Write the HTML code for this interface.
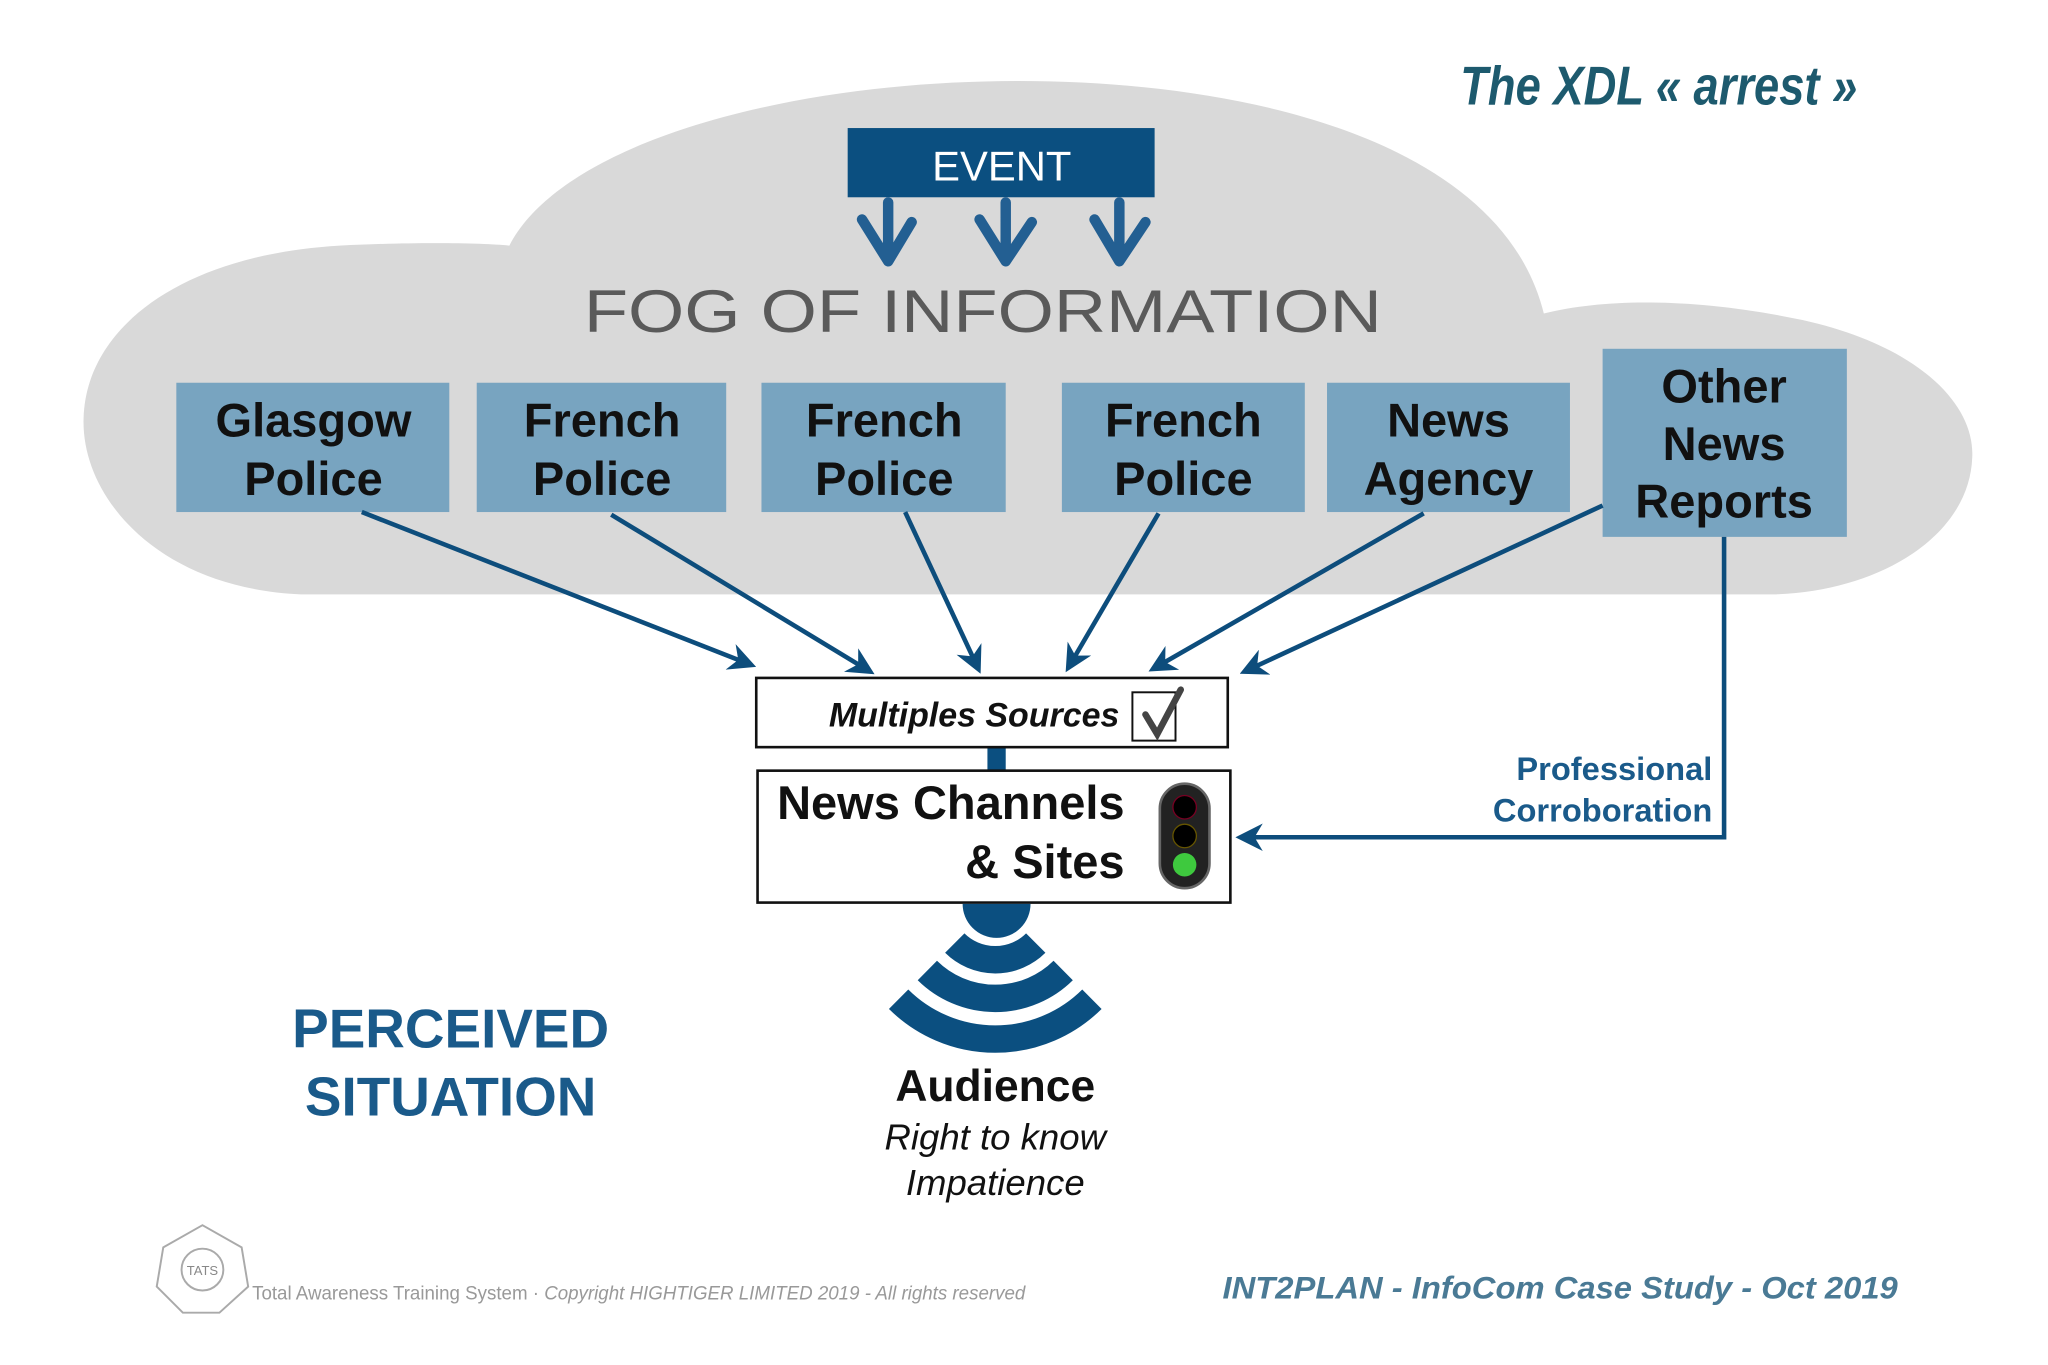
<!DOCTYPE html>
<html><head><meta charset="utf-8"><style>
html,body{margin:0;padding:0;background:#fff;}
svg{display:block;}
text{font-family:"Liberation Sans",sans-serif;}
</style></head><body>
<svg width="2048" height="1365" viewBox="0 0 1568 1045" xmlns="http://www.w3.org/2000/svg">
<defs>
<marker id="ah" viewBox="0 0 10 10" refX="8" refY="5" markerWidth="6" markerHeight="6" orient="auto-start-reverse">
<path d="M0,0 L10,5 L0,10 L3,5 z" fill="#0d4d7c"/>
</marker>
</defs>
<!-- cloud -->
<path fill="#d9d9d9" d="M230,455 C120,450 62,380 64,320 C66,250 140,195 260,188 C320,185 370,186 390,188 C430,110 600,62 780,62 C960,62 1150,110 1182,240 C1230,228 1300,228 1380,245 C1470,265 1512,310 1510,350 C1508,410 1440,452 1360,455 Z"/>
<!-- title -->
<text x="1118" y="80" font-size="42" font-weight="bold" font-style="italic" fill="#1d5a6e" textLength="304" lengthAdjust="spacingAndGlyphs">The XDL « arrest »</text>
<!-- EVENT -->
<rect x="649" y="98" width="235" height="53" fill="#0b4f80"/>
<text x="767" y="138" font-size="32" fill="#fff" text-anchor="middle">EVENT</text>
<g stroke="#235f92" stroke-width="8" fill="none" stroke-linecap="round" stroke-linejoin="round">
<path d="M680,155 L680,200 M660,168 L680,200 L698,170"/>
<path d="M770,155 L770,200 M750,168 L770,200 L790,170"/>
<path d="M857,155 L857,200 M838,168 L857,200 L877,170"/>
</g>
<text x="447" y="254" font-size="46" fill="#5a5a5a" font-family="Liberation Mono,monospace" textLength="611" lengthAdjust="spacingAndGlyphs">FOG OF INFORMATION</text>
<!-- source boxes -->
<g fill="#78a4c0">
<rect x="135" y="293" width="209" height="99"/>
<rect x="365" y="293" width="191" height="99"/>
<rect x="583" y="293" width="187" height="99"/>
<rect x="813" y="293" width="186" height="99"/>
<rect x="1016" y="293" width="186" height="99"/>
<rect x="1227" y="267" width="187" height="144"/>
</g>
<g font-size="36" font-weight="bold" fill="#111" text-anchor="middle">
<text x="240" y="334">Glasgow</text><text x="240" y="379">Police</text>
<text x="461" y="334">French</text><text x="461" y="379">Police</text>
<text x="677" y="334">French</text><text x="677" y="379">Police</text>
<text x="906" y="334">French</text><text x="906" y="379">Police</text>
<text x="1109" y="334">News</text><text x="1109" y="379">Agency</text>
<text x="1320" y="308">Other</text><text x="1320" y="352">News</text><text x="1320" y="396">Reports</text>
</g>
<!-- arrows -->
<g stroke="#0d4d7c" stroke-width="3.5" fill="none" marker-end="url(#ah)">
<line x1="277" y1="392" x2="575" y2="509"/>
<line x1="468" y1="394" x2="666" y2="514"/>
<line x1="693" y1="392" x2="749" y2="512"/>
<line x1="887" y1="393" x2="818" y2="511"/>
<line x1="1090" y1="393" x2="883" y2="512"/>
<line x1="1227" y1="387" x2="953" y2="514"/>
<polyline points="1320,411 1320,641 950,641"/>
</g>
<text x="1311" y="597" font-size="25" font-weight="bold" fill="#1a5a8a" text-anchor="end">Professional</text>
<text x="1311" y="629" font-size="25" font-weight="bold" fill="#1a5a8a" text-anchor="end">Corroboration</text>
<!-- multiple sources -->
<rect x="756" y="571" width="14" height="20" fill="#0b4f80"/>
<rect x="579" y="519" width="361" height="53" fill="#fff" stroke="#111" stroke-width="2"/>
<text x="857" y="556" font-size="26" font-weight="bold" font-style="italic" fill="#111" text-anchor="end">Multiples Sources</text>
<rect x="867" y="530" width="33" height="37" fill="none" stroke="#111" stroke-width="1.5"/>
<path d="M877,547 L886,562 L904,528" stroke="#444" stroke-width="5" fill="none" stroke-linecap="round"/>
<!-- news channels -->
<rect x="580" y="590" width="362" height="101" fill="#fff" stroke="#111" stroke-width="2"/>
<text x="861" y="627" font-size="36" font-weight="bold" fill="#111" text-anchor="end">News Channels</text>
<text x="861" y="672" font-size="36" font-weight="bold" fill="#111" text-anchor="end">&amp; Sites</text>
<rect x="888" y="600" width="38" height="80" rx="19" fill="#222" stroke="#666" stroke-width="2"/>
<circle cx="907" cy="618" r="9" fill="#000" stroke="#702" stroke-width="1"/>
<circle cx="907" cy="640" r="9" fill="#000" stroke="#650" stroke-width="1"/>
<circle cx="907" cy="662" r="9" fill="#3ec93e"/>
<!-- wifi -->
<path d="M737,692 A26,26 0 0 0 789,692 Z" fill="#0b4f80"/>
<g stroke="#0b4f80" stroke-width="21" fill="none">
<path d="M731,722 A44,44 0 0 0 793,722"/>
<path d="M710,743 A74,74 0 0 0 814,743"/>
<path d="M688,765 A105,105 0 0 0 836,765"/>
</g>
<text x="762" y="843" font-size="34" font-weight="bold" fill="#111" text-anchor="middle">Audience</text>
<text x="762" y="880" font-size="28" font-style="italic" fill="#111" text-anchor="middle">Right to know</text>
<text x="762" y="915" font-size="28" font-style="italic" fill="#111" text-anchor="middle">Impatience</text>
<text x="345" y="802" font-size="42" font-weight="bold" fill="#1a5a8a" text-anchor="middle">PERCEIVED</text>
<text x="345" y="854" font-size="42" font-weight="bold" fill="#1a5a8a" text-anchor="middle">SITUATION</text>
<!-- footer -->
<g stroke="#aaa" fill="none" stroke-width="1.5">
<polygon points="155,938 185,955 190,985 168,1005 140,1005 120,985 125,955"/>
<circle cx="155" cy="972" r="16"/>
</g>
<text x="155" y="976" font-size="10" fill="#888" text-anchor="middle">TATS</text>
<text x="193" y="995" font-size="15" fill="#999" textLength="592" lengthAdjust="spacingAndGlyphs">Total Awareness Training System · <tspan font-style="italic">Copyright HIGHTIGER LIMITED 2019 - All rights reserved</tspan></text>
<text x="936" y="994" font-size="24" font-weight="bold" font-style="italic" fill="#4a7a95" textLength="517" lengthAdjust="spacingAndGlyphs">INT2PLAN  - InfoCom Case Study - Oct 2019</text>
</svg>
</body></html>
